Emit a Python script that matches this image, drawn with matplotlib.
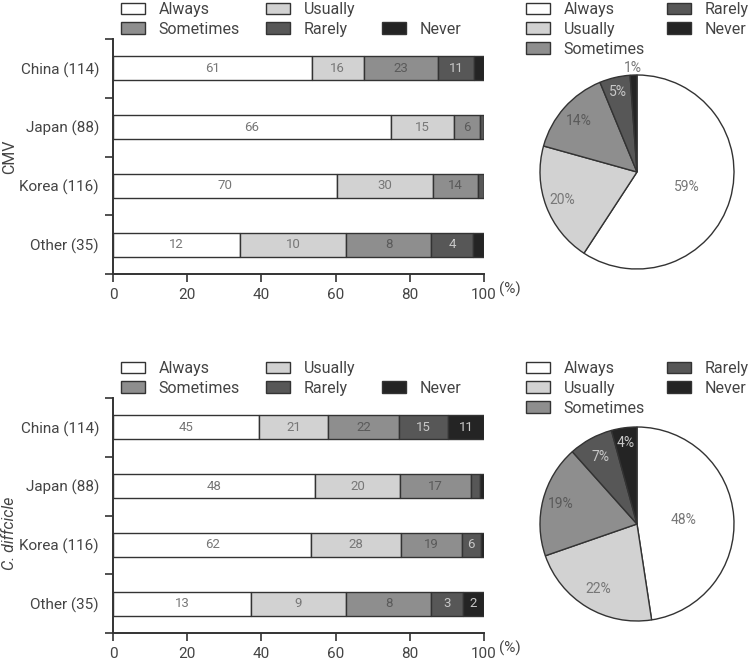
import numpy as np
import matplotlib
matplotlib.use("Agg")
import matplotlib.pyplot as plt
from matplotlib.patches import Patch

plt.rcParams['font.family'] = ['Roboto', 'DejaVu Sans']
plt.rcParams['font.weight'] = 'normal'

categories = ["China (114)", "Japan (88)", "Korea (116)", "Other (35)"]
totals = [114, 88, 116, 35]
levels = ["Always", "Usually", "Sometimes", "Rarely", "Never"]

cmv_always = [61, 66, 70, 12]
cmv_usually = [16, 15, 30, 10]
cmv_sometimes = [23, 6, 14, 8]
cmv_rarely = [11, 1, 2, 4]
cmv_never = [3, 0, 0, 1]

cd_always = [45, 48, 62, 13]
cd_usually = [21, 20, 28, 9]
cd_sometimes = [22, 17, 19, 8]
cd_rarely = [15, 2, 6, 3]
cd_never = [11, 1, 1, 2]

colors = ["#ffffff", "#d2d2d2", "#8e8e8e", "#575757", "#242424"]
text_colors = ["#777777", "#777777", "#5a5a5a", "#c8c8c8", "#c8c8c8"]
edge = "#333333"
txt = "#444444"

W, H = 752, 660
fig = plt.figure(figsize=(W / 100, H / 100), dpi=100)


def px_axes(left, top, right, bottom):
    return fig.add_axes([left / W, 1 - bottom / H, (right - left) / W, (bottom - top) / H])


def bar_panel(ax, series):
    tot = np.array(totals, dtype=float)
    y = np.arange(len(categories))
    left = np.zeros(len(categories))
    for i, vals in enumerate(series):
        vals = np.array(vals, dtype=float)
        pct = vals / tot * 100
        ax.barh(y, pct, left=left, height=0.41, color=colors[i], edgecolor=edge, linewidth=1)
        for j in range(len(categories)):
            if pct[j] >= 4:
                ax.text(left[j] + pct[j] / 2, y[j], str(int(vals[j])), ha='center', va='center',
                        fontsize=9.5, color=text_colors[i])
        left += pct
    ax.set_xlim(0, 100)
    ax.set_ylim(len(categories) - 0.5, -0.5)
    ax.set_yticks(y)
    ax.set_yticklabels(categories, fontsize=11, color=txt)
    ax.set_yticks(np.arange(-0.5, len(categories), 1.0), minor=True)
    ax.tick_params(axis='y', which='major', length=0, pad=10)
    ax.tick_params(axis='y', which='minor', length=6, width=1.2, color=edge)
    ax.set_xticks([0, 20, 40, 60, 80, 100])
    ax.tick_params(axis='x', length=6, width=1.2, color=edge, labelsize=11, labelcolor=txt, pad=4)
    for s in ['top', 'right']:
        ax.spines[s].set_visible(False)
    for s in ['left', 'bottom']:
        ax.spines[s].set_color(edge)
        ax.spines[s].set_linewidth(1.4)
    ax.text(1.04, -0.032, "(%)", transform=ax.transAxes, ha='left', va='top', fontsize=11, color=txt)


def pie_panel(ax, series, dists):
    vals = [sum(v) for v in series]
    wedges, _ = ax.pie(vals, colors=colors, startangle=90, counterclock=False,
                       wedgeprops=dict(edgecolor=edge, linewidth=1))
    total = float(sum(vals))
    for i, w in enumerate(wedges):
        ang = np.deg2rad((w.theta1 + w.theta2) / 2)
        d = dists[i]
        col = text_colors[i] if d <= 1 else "#777777"
        ax.text(d * np.cos(ang), d * np.sin(ang), f"{round(vals[i] / total * 100)}%",
                ha='center', va='center', fontsize=10, color=col)
    lim = 100 / 97
    ax.set_xlim(-lim, lim)
    ax.set_ylim(-lim, lim)
    ax.set_aspect('equal')
    ax.axis('off')


def handles_for(order):
    hs, ls = [], []
    for k in order:
        if k is None:
            hs.append(Patch(visible=False))
            ls.append("")
        else:
            hs.append(Patch(facecolor=colors[k], edgecolor=edge, linewidth=1))
            ls.append(levels[k])
    return hs, ls


leg_kw = dict(frameon=False, borderpad=0, borderaxespad=0, fontsize=11.5, handlelength=1.5,
              handleheight=0.75, handletextpad=0.85, labelspacing=0.3,
              labelcolor=txt)

cmv = [cmv_always, cmv_usually, cmv_sometimes, cmv_rarely, cmv_never]
cd = [cd_always, cd_usually, cd_sometimes, cd_rarely, cd_never]

for series, top, name, style, py, ly in [(cmv, 39, "CMV", 'normal', 172, 157),
                                         (cd, 398, "C. diffcicle", 'italic', 524, 533)]:
    ax = px_axes(113, top, 484, top + 235)
    bar_panel(ax, series)
    fig.text(10 / W, 1 - ly / H, name, rotation=90, ha='center', va='center',
             fontsize=11.5, color=txt, style=style)
    hs, ls = handles_for([0, 2, 1, 3, None, 4])
    fig.legend(hs, ls, ncol=3, loc='upper left', bbox_to_anchor=(121 / W, 1 - (top - 37) / H),
               columnspacing=1.65, **leg_kw)
    pax = px_axes(637 - 100, py - 100, 637 + 100, py + 100)
    if name == "CMV":
        pie_panel(pax, series, [0.54, 0.82, 0.8, 0.85, 1.07])
    else:
        pie_panel(pax, series, [0.48, 0.78, 0.81, 0.79, 0.84])
    hs, ls = handles_for([0, 1, 2, 3, 4])
    fig.legend(hs, ls, ncol=2, loc='upper left', bbox_to_anchor=(526 / W, 1 - (top - 37) / H),
               columnspacing=1.4, **leg_kw)

fig.savefig("out.png", dpi=100)
